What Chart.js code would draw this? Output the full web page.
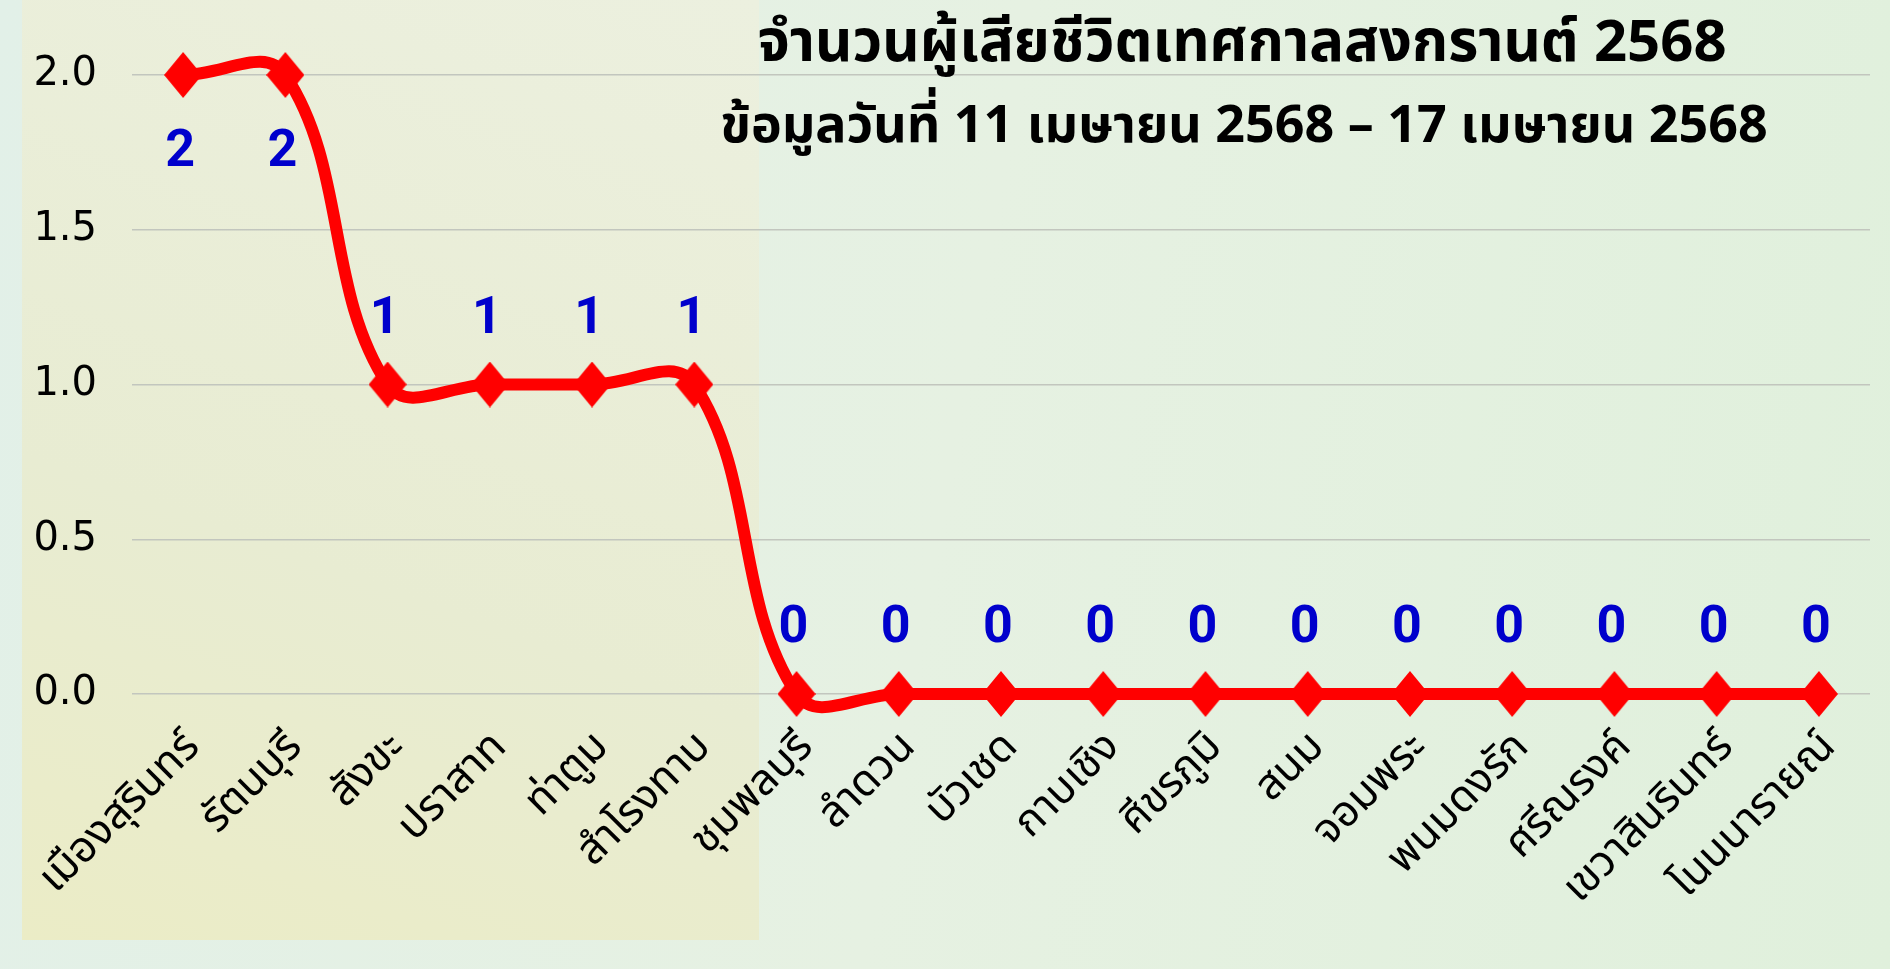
<!DOCTYPE html>
<html>
<head>
<meta charset="utf-8">
<script src="https://cdn.jsdelivr.net/npm/chart.js@4.4.1/dist/chart.umd.min.js"></script>
<style>
  html, body { margin: 0; padding: 0; }
  body {
    width: 1890px; height: 969px; overflow: hidden; position: relative;
    background: linear-gradient(100deg, #e2f0e8 0%, #e6f1e2 50%, #e0f0dc 100%);
  }
  #panel {
    position: absolute; left: 22px; top: 0; width: 737px; height: 940px;
    background: linear-gradient(200deg, #ecf0df 0%, #e8ecd2 60%, #ebecc6 100%);
  }
  #deathChart { position: absolute; left: 0; top: 0; }
</style>
</head>
<body>
<div id="panel"></div>
<canvas id="deathChart" width="1890" height="969"></canvas>
<script>
// อำเภอ (จังหวัดสุรินทร์)
const districts = [
    "เมืองสุรินทร์", "รัตนบุรี", "สังขะ", "ปราสาท", "ท่าตูม", "สำโรงทาบ",
    "ชุมพลบุรี", "ลำดวน", "บัวเชด", "กาบเชิง", "ศีขรภูมิ", "สนม",
    "จอมพระ", "พนมดงรัก", "ศรีณรงค์", "เขวาสินรินทร์", "โนนนารายณ์"
];
// จำนวนผู้เสียชีวิต
const deaths = [2, 2, 1, 1, 1, 1, 0, 0, 0, 0, 0, 0, 0, 0, 0, 0, 0];

const titleLines = [
    "จำนวนผู้เสียชีวิตเทศกาลสงกรานต์ 2568",
    "ข้อมูลวันที่ 11 เมษายน 2568 – 17 เมษายน 2568"
];
const yTicks = [0, 0.5, 1, 1.5, 2];

// diamond marker
function makeDiamond(w, h, color) {
    const c = document.createElement("canvas");
    c.width = w; c.height = h;
    const g = c.getContext("2d");
    g.fillStyle = color;
    g.beginPath();
    g.moveTo(w / 2, 0);
    g.lineTo(w, h / 2);
    g.lineTo(w / 2, h);
    g.lineTo(0, h / 2);
    g.closePath();
    g.fill();
    return c;
}
const diamond = makeDiamond(38, 46, "#ff0000");

const thaiFont = "'Noto Sans Thai', 'Noto Sans Thai Looped', Loma, 'Noto Sans', sans-serif";

// ตัวเลขกำกับจุด
const valueLabels = {
    id: "valueLabels",
    afterDatasetsDraw(chart) {
        const ctx = chart.ctx;
        const meta = chart.getDatasetMeta(0);
        const top = chart.scales.y.max;
        ctx.save();
        ctx.fillStyle = "#0000cc";
        ctx.font = "bold 52px Roboto, sans-serif";
        ctx.textAlign = "center";
        ctx.textBaseline = "middle";
        meta.data.forEach((pt, i) => {
            const v = deaths[i];
            const dy = v === top ? 78 : -65;
            ctx.fillText(String(v), pt.x - 3, pt.y + dy);
        });
        ctx.restore();
    }
};

// หัวเรื่องวางทับพื้นที่กราฟ
const overlayTitle = {
    id: "overlayTitle",
    afterDraw(chart) {
        const ctx = chart.ctx;
        ctx.save();
        ctx.fillStyle = "#000";
        ctx.textAlign = "center";
        ctx.textBaseline = "middle";
        ctx.font = "bold 58px " + thaiFont;
        ctx.fillText(titleLines[0], 1242, 49);
        ctx.font = "bold 52px " + thaiFont;
        ctx.fillText(titleLines[1], 1244, 131);
        ctx.restore();
    }
};

new Chart(document.getElementById("deathChart"), {
    type: "line",
    data: {
        labels: districts,
        datasets: [{
            data: deaths,
            borderColor: "#ff0000",
            borderWidth: 12,
            tension: 0.4,
            capBezierPoints: false,
            pointStyle: diamond,
            pointRadius: 23,
            pointHoverRadius: 23,
            backgroundColor: "#ff0000",
            clip: false
        }]
    },
    options: {
        responsive: false,
        animation: false,
        devicePixelRatio: 1,
        layout: { autoPadding: false, padding: { top: 75, right: 20, left: 0, bottom: 0 } },
        plugins: { legend: { display: false }, tooltip: { enabled: false } },
        scales: {
            x: {
                offset: true,
                grid: { display: false, drawTicks: false },
                border: { display: false },
                ticks: {
                    autoSkip: false,
                    minRotation: 45,
                    maxRotation: 45,
                    padding: 30,
                    labelOffset: 12,
                    color: "#000",
                    font: { size: 43, family: thaiFont }
                },
                afterFit(scale) {
                    scale.height = 275;
                    scale.paddingLeft = 0;
                    scale.paddingRight = 0;
                }
            },
            y: {
                min: 0,
                max: 2,
                afterBuildTicks(scale) { scale.ticks = yTicks.map(v => ({ value: v })); },
                grid: { color: "#c2c6be", lineWidth: 1.5, drawTicks: false },
                border: { display: false },
                ticks: {
                    padding: 35,
                    color: "#000",
                    font: { size: 40, family: "'DejaVu Sans', sans-serif" },
                    callback: v => Number(v).toFixed(1)
                },
                afterFit(scale) { scale.width = 132; }
            }
        }
    },
    plugins: [valueLabels, overlayTitle]
});
</script>
</body>
</html>
